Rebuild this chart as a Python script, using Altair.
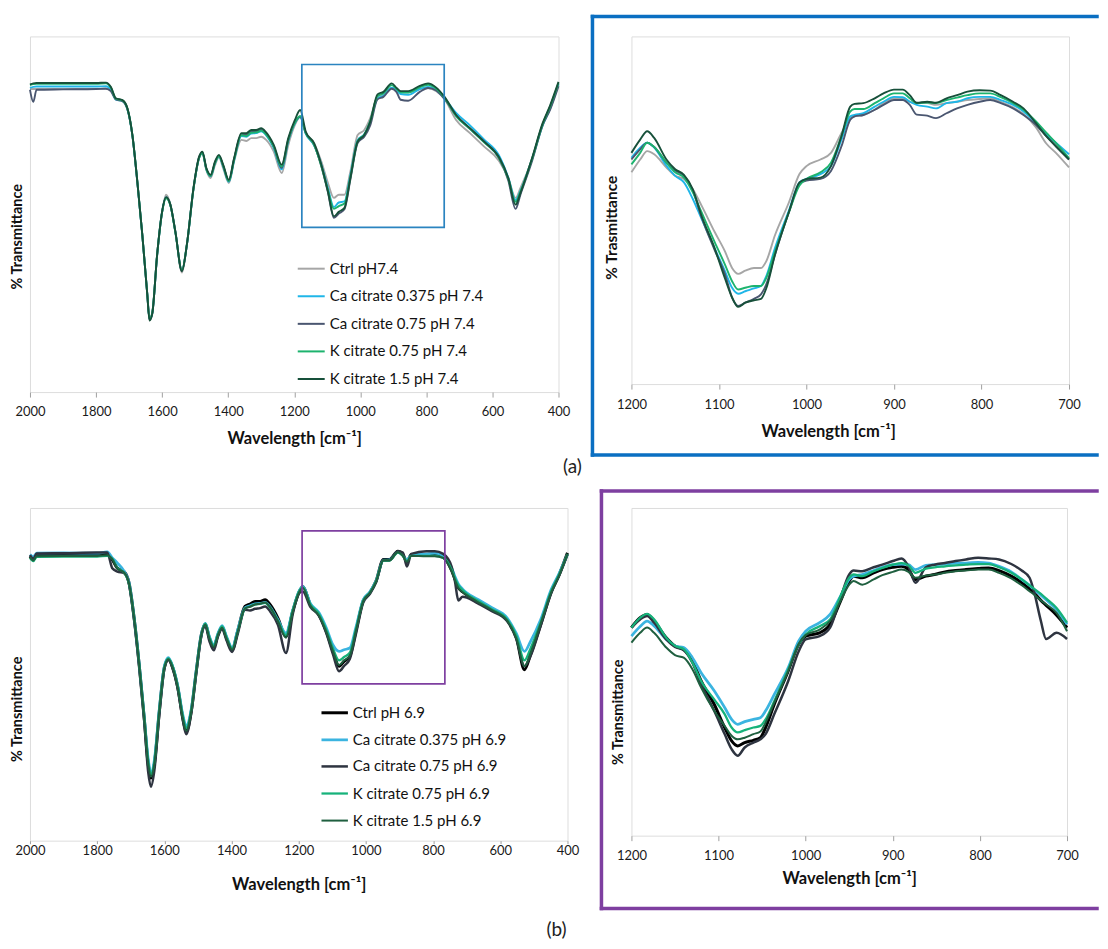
import altair as alt
import pandas as pd

FONT = "Lato"
GRAY = "#A0A0A0"

# ---------------- (a) pH 7.4 : full spectrum ----------------
TOP_NAMES = ["Ctrl pH7.4", "Ca citrate 0.375 pH 7.4", "Ca citrate 0.75 pH 7.4",
             "K citrate 0.75 pH 7.4", "K citrate 1.5 pH 7.4"]
TOP_COLORS = ["#A6A6A6", "#1FB6E8", "#4A5670", "#1DB36E", "#17503A"]

TL_X = [2000, 1990, 1980, 1900, 1800, 1770, 1755, 1740, 1720, 1705, 1690, 1675, 1660, 1645, 1638,
        1630, 1615, 1600, 1588, 1575, 1560, 1540, 1525, 1505, 1488, 1478, 1466, 1453, 1440, 1428,
        1415, 1398, 1382, 1360, 1345, 1330, 1315, 1300, 1285, 1262, 1238, 1218, 1198, 1182, 1165,
        1140, 1118, 1098, 1080, 1065, 1048, 1030, 1008, 988, 970, 948, 930, 905, 890, 878,
        855, 820, 795, 770, 745, 710, 668, 625, 580, 552, 530, 515, 480, 448, 425, 400]
TL_CTRL = [85.2, 85.2, 85.2, 85.2, 85.2, 85.4, 84.6, 82.4, 82.0, 79.6, 72.2, 59.1, 44.3, 27.8, 20.6,
           22.3, 38.6, 50.5, 55.5, 52.8, 45.3, 33.6, 41.4, 57.0, 65.8, 67.1, 62.4, 60.2, 63.8, 66.0,
           62.9, 58.8, 64.9, 70.9, 70.6, 71.4, 71.4, 71.8, 70.9, 67.6, 61.6, 69.5, 75.1, 77.4, 72.8,
           70.0, 64.8, 58.8, 54.6, 55.5, 55.5, 62.0, 72.3, 73.7, 77.0, 83.0, 83.7, 85.5, 85.2, 84.4,
           84.3, 85.2, 85.5, 84.6, 82.4, 76.5, 72.8, 69.0, 65.0, 60.2, 54.6, 57.4, 65.5, 75.3, 79.8, 86.5]
TL_CA0375 = [85.5, 85.8, 85.9, 85.9, 85.9, 86.0, 85.0, 82.2, 81.8, 79.5, 72.1, 59.0, 44.2, 27.6, 20.4,
             22.0, 38.6, 50.7, 54.8, 52.6, 45.1, 34.2, 41.4, 57.2, 65.9, 67.3, 62.6, 60.7, 64.3, 66.2,
             63.4, 59.1, 65.2, 72.0, 71.8, 72.7, 72.8, 73.3, 72.2, 68.6, 62.6, 70.6, 75.6, 77.3, 72.6,
             69.4, 64.0, 57.3, 52.0, 53.3, 53.6, 61.0, 70.8, 72.5, 76.0, 82.5, 83.3, 85.6, 84.8, 83.8,
             83.6, 85.2, 85.8, 84.9, 82.6, 78.5, 75.0, 71.0, 66.5, 60.3, 54.0, 56.6, 65.5, 75.0, 79.8, 86.6]
TL_CA075 = [85.0, 81.6, 85.0, 85.1, 85.2, 85.3, 84.6, 82.3, 81.8, 79.5, 72.2, 59.1, 44.3, 27.6, 20.3,
            22.0, 38.6, 50.6, 54.7, 52.6, 45.1, 34.1, 41.4, 57.2, 66.0, 67.4, 62.7, 60.8, 64.5, 66.4,
            63.6, 59.3, 65.5, 72.4, 72.3, 73.2, 73.3, 73.8, 72.6, 69.0, 63.0, 70.8, 75.8, 77.4, 72.8,
            69.6, 63.5, 56.2, 49.0, 50.2, 51.4, 59.8, 70.0, 71.8, 75.0, 82.3, 83.0, 85.3, 84.3, 82.2,
            81.9, 84.4, 85.5, 84.8, 82.4, 77.8, 74.0, 70.4, 65.8, 59.5, 51.5, 55.6, 65.0, 75.0, 79.5, 86.0]
TL_K075 = [86.3, 86.6, 86.7, 86.7, 86.7, 86.8, 85.6, 82.5, 82.0, 79.7, 72.3, 59.2, 44.3, 27.7, 20.5,
           22.2, 38.7, 50.6, 54.5, 52.5, 45.0, 34.3, 41.5, 57.2, 65.8, 67.2, 62.7, 60.8, 64.4, 66.3,
           63.6, 59.3, 65.4, 72.2, 72.0, 72.9, 73.0, 73.5, 72.4, 69.0, 63.4, 71.0, 75.8, 77.6, 72.8,
           69.6, 63.6, 56.8, 51.5, 52.3, 53.0, 60.5, 70.6, 72.4, 76.2, 83.2, 84.0, 86.3, 85.2, 84.3,
           84.2, 85.7, 86.4, 85.3, 82.8, 77.6, 74.0, 70.2, 65.8, 60.0, 53.5, 56.4, 65.6, 75.3, 80.4, 86.9]
TL_K15 = [86.5, 86.8, 86.9, 86.9, 86.9, 87.0, 85.8, 82.6, 82.1, 79.8, 72.3, 59.2, 44.3, 27.5, 20.1,
          21.9, 38.7, 50.8, 54.8, 52.7, 45.2, 34.0, 41.5, 57.4, 66.2, 67.6, 63.0, 61.1, 64.8, 66.7,
          63.9, 59.7, 65.8, 72.8, 72.8, 73.7, 73.7, 74.2, 73.0, 69.5, 63.9, 71.4, 76.5, 79.3, 73.2,
          70.0, 63.9, 56.4, 49.4, 50.7, 51.8, 60.2, 70.4, 72.3, 76.0, 83.7, 84.4, 86.8, 85.5, 84.6,
          84.6, 86.1, 86.8, 85.6, 83.0, 77.9, 74.2, 70.4, 66.0, 60.2, 52.7, 56.0, 65.8, 75.6, 80.7, 87.2]
TL_BOX = [1177, 746, 46.3, 92.1]   # wn from, wn to, T low, T high

# ---------------- (a) pH 7.4 : zoom 1200-700 ----------------
TR_X = [1200, 1190, 1182, 1174, 1160, 1150, 1140, 1130, 1120, 1105, 1093, 1085, 1078, 1070, 1060,
        1052, 1046, 1036, 1020, 1008, 1000, 984, 972, 960, 950, 945, 935, 922, 912, 900,
        890, 882, 874, 862, 852, 840, 828, 816, 802, 790, 778, 764, 752, 738, 726, 715, 700]
TR_CTRL = [60.9, 64.6, 67.0, 66.1, 62.3, 59.9, 59.0, 56.1, 51.4, 43.8, 38.1, 33.4, 31.7, 32.6, 33.4,
           33.4, 35.3, 42.8, 52.3, 60.4, 62.7, 64.6, 66.5, 72.2, 76.5, 77.0, 77.4, 78.9, 80.8, 82.2,
           82.2, 81.2, 80.8, 80.8, 80.3, 80.8, 81.2, 81.7, 82.0, 82.2, 81.2, 79.6, 77.7, 73.9, 69.2, 66.5, 62.3]
TR_CA0375 = [65.1, 68.0, 69.4, 68.0, 62.8, 59.9, 58.0, 53.3, 47.6, 39.1, 32.4, 27.7, 26.0, 26.7, 27.5,
             28.2, 31.0, 39.1, 50.0, 58.0, 59.0, 60.4, 62.7, 70.3, 77.0, 77.4, 77.9, 79.8, 81.2, 82.6,
             82.5, 81.2, 80.3, 79.8, 79.3, 80.8, 81.2, 82.2, 82.6, 82.6, 81.7, 80.3, 78.4, 75.1, 71.8, 69.4, 66.1]
TR_CA075 = [64.6, 67.5, 69.4, 68.2, 63.7, 61.4, 59.9, 55.7, 48.1, 38.6, 31.5, 24.9, 22.5, 23.4, 24.5,
            25.8, 28.6, 37.2, 49.5, 57.5, 58.5, 59.0, 61.3, 68.4, 76.0, 77.0, 77.4, 78.9, 80.3, 81.7,
            81.7, 80.3, 77.5, 77.2, 76.5, 77.9, 79.3, 80.3, 81.2, 81.7, 80.8, 79.3, 77.4, 74.6, 71.3, 68.4, 64.6]
TR_K075 = [63.2, 66.5, 69.4, 68.2, 63.7, 60.9, 59.4, 55.2, 49.5, 40.9, 34.3, 29.6, 27.2, 27.7, 28.2,
           28.2, 30.5, 38.1, 49.5, 57.1, 59.0, 60.9, 63.7, 71.3, 78.4, 79.1, 79.1, 80.8, 82.2, 83.6,
           83.6, 82.2, 80.8, 81.0, 80.8, 81.7, 82.4, 83.1, 83.6, 83.6, 82.5, 80.8, 78.9, 75.6, 72.3, 69.4, 65.0]
TR_K15 = [66.5, 70.3, 72.7, 70.8, 64.6, 61.8, 60.2, 56.1, 48.5, 39.1, 30.3, 24.9, 22.2, 23.4, 24.1,
          24.5, 27.5, 37.2, 49.5, 58.0, 59.0, 59.4, 62.7, 71.3, 79.8, 80.6, 80.8, 82.2, 83.6, 84.7,
          84.7, 83.1, 80.9, 81.2, 80.9, 82.2, 83.1, 84.1, 84.5, 84.4, 83.1, 81.2, 79.3, 75.1, 71.3, 68.4, 64.6]

# ---------------- (b) pH 6.9 : full spectrum ----------------
BOT_NAMES = ["Ctrl pH 6.9", "Ca citrate 0.375 pH 6.9", "Ca citrate 0.75 pH 6.9",
             "K citrate 0.75 pH 6.9", "K citrate 1.5 pH 6.9"]
BOT_COLORS = ["#000000", "#3BB4E0", "#2E3440", "#16B27A", "#1F5F3F"]
BOT_WIDTHS = [3.0, 2.0, 1.2, 1.9, 1.9]

BL_X = [2000, 1990, 1980, 1900, 1800, 1770, 1755, 1740, 1720, 1705, 1690, 1675, 1660, 1648, 1640,
        1630, 1615, 1600, 1588, 1575, 1560, 1545, 1535, 1520, 1505, 1490, 1478, 1466, 1453, 1440,
        1428, 1415, 1398, 1382, 1360, 1345, 1330, 1315, 1300, 1285, 1262, 1238, 1218, 1198, 1188,
        1165, 1140, 1118, 1098, 1080, 1065, 1048, 1030, 1008, 988, 970, 948, 930, 905, 890,
        878, 865, 820, 795, 770, 745, 735, 725, 712, 700, 668, 625, 580, 552, 528, 510, 480, 448, 425, 400]
BL_CTRL = [85.5, 84.5, 86.0, 86.0, 86.0, 86.0, 84.5, 81.9, 80.9, 77.4, 66.9, 52.9, 36.8, 22.8, 18.8,
           22.8, 38.8, 52.0, 54.5, 52.0, 46.0, 36.8, 32.8, 38.8, 50.9, 61.9, 65.1, 60.9, 58.2, 62.0,
           64.2, 60.9, 57.4, 62.9, 70.4, 71.1, 71.9, 71.9, 72.4, 70.9, 66.9, 61.4, 68.9, 74.9, 76.4,
           70.9, 67.9, 62.9, 56.9, 52.4, 53.9, 55.4, 62.9, 72.1, 74.6, 78.0, 84.5, 84.5, 87.0, 86.0,
           83.9, 86.0, 86.0, 86.0, 85.2, 81.2, 78.6, 76.1, 74.8, 73.9, 71.9, 69.4, 66.4, 60.9, 51.4,
           55.9, 64.9, 74.9, 79.9, 86.5]
BL_CA0375 = [86.0, 85.3, 86.4, 86.5, 86.4, 86.8, 85.0, 83.5, 81.0, 77.6, 67.0, 53.2, 37.3, 24.5, 20.3,
             24.0, 39.5, 52.4, 55.0, 52.3, 46.5, 37.8, 34.5, 39.5, 51.3, 62.0, 65.3, 61.4, 58.8, 62.4,
             64.6, 61.4, 58.0, 63.2, 70.0, 70.6, 71.2, 71.3, 71.6, 70.2, 66.4, 62.4, 69.2, 75.2, 76.4,
             71.2, 68.6, 64.0, 58.8, 56.9, 57.4, 57.9, 64.0, 72.4, 74.8, 78.0, 84.3, 84.4, 86.7, 85.8,
             84.4, 85.8, 86.2, 86.4, 85.6, 82.0, 79.4, 77.2, 75.6, 74.5, 72.6, 70.0, 67.0, 62.2, 56.9,
             59.9, 66.4, 75.6, 80.3, 86.0]
BL_CA075 = [85.8, 84.7, 86.3, 86.4, 86.6, 86.6, 81.9, 80.9, 80.4, 77.0, 66.5, 52.5, 36.2, 20.5, 16.2,
            20.9, 38.0, 51.6, 54.3, 51.6, 45.6, 36.2, 32.0, 38.3, 50.5, 61.6, 64.5, 60.0, 57.2, 61.5,
            63.6, 60.2, 56.7, 62.0, 69.4, 69.2, 69.7, 69.9, 70.4, 68.9, 64.9, 56.4, 68.0, 74.5, 74.9,
            70.2, 67.6, 62.4, 56.0, 50.9, 52.5, 54.6, 62.0, 71.6, 74.2, 77.6, 84.3, 84.3, 87.0, 86.6,
            82.4, 86.2, 87.0, 87.0, 86.2, 82.4, 78.0, 72.2, 73.3, 73.1, 71.4, 69.0, 66.0, 60.6, 52.4,
            55.5, 64.5, 74.5, 79.6, 86.0]
BL_K075 = [85.0, 84.0, 85.3, 85.4, 85.4, 85.6, 84.8, 82.0, 80.6, 77.2, 67.2, 53.4, 37.6, 24.0, 20.0,
           23.5, 39.4, 52.2, 54.8, 52.4, 46.4, 37.5, 33.8, 39.2, 51.2, 62.0, 65.2, 61.2, 58.6, 62.2,
           64.4, 61.2, 57.8, 62.8, 69.8, 70.4, 71.0, 71.2, 71.5, 70.0, 66.2, 61.8, 69.2, 75.2, 76.2,
           71.0, 68.2, 63.4, 57.8, 54.2, 55.2, 56.5, 63.5, 72.2, 74.6, 78.0, 84.2, 84.2, 86.6, 85.6,
           84.0, 85.6, 85.6, 85.6, 85.0, 81.5, 79.0, 76.8, 75.3, 74.2, 72.2, 69.6, 66.6, 61.6, 54.2,
           57.8, 65.6, 75.2, 80.0, 86.2]
BL_K15 = [85.2, 84.2, 85.5, 85.6, 85.6, 85.8, 84.6, 81.8, 80.6, 77.2, 67.0, 53.0, 37.0, 23.2, 19.2,
          23.0, 39.0, 52.0, 54.5, 52.0, 46.0, 36.9, 33.0, 38.9, 51.0, 61.9, 65.0, 60.8, 58.2, 62.0,
          64.0, 60.8, 57.4, 62.7, 69.8, 70.3, 71.0, 71.2, 71.6, 70.1, 66.0, 61.0, 68.8, 74.8, 76.0,
          70.6, 67.7, 62.8, 57.0, 52.8, 54.2, 55.6, 63.0, 72.0, 74.5, 77.8, 84.2, 84.2, 86.7, 85.6,
          83.8, 85.6, 85.5, 85.5, 85.0, 81.0, 78.4, 76.0, 74.7, 73.8, 71.8, 69.3, 66.2, 60.8, 52.4,
          56.4, 65.2, 74.8, 79.7, 86.2]
BL_BOX = [1190, 765, 47.1, 93.1]

# ---------------- (b) pH 6.9 : zoom 1200-700 ----------------
BR_X = [1200, 1190, 1182, 1174, 1160, 1150, 1140, 1130, 1120, 1105, 1093, 1085, 1078, 1070, 1060,
        1052, 1046, 1036, 1020, 1008, 1000, 984, 972, 960, 950, 945, 935, 922, 912, 900,
        890, 882, 874, 862, 852, 840, 828, 816, 802, 790, 778, 764, 752, 743, 738, 730, 724, 712, 700]
BR_CTRL = [63.5, 66.5, 67.5, 65.5, 60.4, 57.9, 56.9, 53.3, 47.2, 40.1, 33.0, 28.9, 27.4, 28.4, 29.1,
           29.9, 33.0, 40.1, 50.3, 58.4, 60.9, 61.9, 64.5, 71.6, 77.7, 79.2, 78.7, 80.2, 81.2, 81.9,
           82.2, 81.2, 78.2, 79.2, 79.7, 80.5, 80.9, 81.2, 81.5, 81.7, 80.9, 79.2, 77.2, 75.3, 74.1,
           71.8, 70.3, 67.3, 63.5]
BR_CA0375 = [60.9, 63.8, 65.5, 64.0, 59.9, 57.9, 57.4, 54.3, 49.7, 44.2, 39.1, 35.5, 34.0, 34.8, 35.5,
             36.0, 38.1, 43.1, 51.3, 59.4, 62.4, 65.0, 67.5, 73.1, 78.2, 79.2, 79.7, 80.9, 81.9, 82.7,
             82.9, 82.7, 81.2, 82.5, 82.7, 82.9, 83.2, 83.2, 83.4, 83.2, 82.2, 80.5, 78.2, 76.4, 75.1,
             73.4, 72.0, 69.0, 64.5]
BR_CA075 = [63.5, 66.0, 67.0, 65.0, 59.9, 57.6, 56.6, 52.8, 46.2, 38.1, 31.0, 26.4, 24.4, 26.9, 28.4,
            29.4, 31.0, 37.1, 47.2, 56.3, 59.9, 60.9, 63.5, 72.6, 79.7, 80.9, 80.7, 81.9, 82.7, 83.8,
            84.6, 82.2, 77.2, 81.9, 82.7, 83.2, 83.8, 84.3, 84.8, 84.6, 84.3, 82.9, 80.9, 78.7, 74.6,
            65.5, 60.0, 61.9, 60.0]
BR_K075 = [63.5, 66.5, 67.7, 66.0, 60.4, 57.9, 56.9, 52.8, 47.2, 41.6, 37.1, 33.0, 31.5, 32.2, 33.0,
           33.5, 35.5, 41.1, 50.8, 58.4, 61.4, 63.9, 66.0, 73.1, 78.7, 79.7, 79.2, 80.7, 81.7, 82.7,
           83.2, 82.5, 80.2, 81.5, 81.9, 82.2, 82.5, 82.7, 82.9, 82.9, 81.9, 80.2, 78.2, 76.4, 75.4,
           73.8, 72.4, 69.5, 65.0]
BR_K15 = [58.9, 61.9, 63.5, 61.9, 57.4, 55.1, 54.3, 50.8, 45.2, 38.1, 33.5, 30.5, 29.4, 29.9, 31.0,
          31.8, 34.5, 40.6, 50.3, 58.6, 61.2, 62.9, 65.5, 71.6, 76.6, 77.7, 76.6, 78.2, 79.5, 80.5,
          81.2, 80.5, 78.7, 79.4, 79.7, 80.2, 80.7, 80.9, 81.2, 81.2, 80.2, 78.5, 76.4, 74.6, 73.6,
          71.8, 70.6, 68.0, 62.4]

FULL_TICKS = [2000, 1800, 1600, 1400, 1200, 1000, 800, 600, 400]
ZOOM_TICKS = [1200, 1100, 1000, 900, 800, 700]
XTITLE = "Wavelength [cm\u207b\u00b9]"


def long_df(xs, lists, names):
    rows = []
    for name, vals in zip(names, lists):
        assert len(vals) == len(xs), (name, len(vals), len(xs))
        for x, v in zip(xs, vals):
            rows.append({"wn": x, "T": v, "series": name})
    return pd.DataFrame(rows)


ONE = alt.Data(values=[{"k": 1}])


def panel(df, names, colors, widths, xdom, xticks, w, h, ytitle, ytitle_y, ytitle_pad,
          tick_size, label_pad, xtitle_pad, ytitle_size=14.5, xtitle_x=None, legend=None):
    xaxis_kw = dict(values=xticks, format="d", grid=False, domain=False, ticks=True,
                    tickColor=GRAY, tickSize=tick_size, labelPadding=label_pad,
                    labelFlush=False, labelOverlap=False, labelFont=FONT, labelFontSize=13,
                    labelColor="#1a1a1a", titleFont=FONT, titleFontSize=16.5,
                    titleFontWeight="bold", titleColor="#111111", titlePadding=xtitle_pad)
    if xtitle_x is not None:
        xaxis_kw["titleX"] = xtitle_x
    yaxis = alt.Axis(labels=False, ticks=False, domain=False, grid=False, titleFont=FONT,
                     titleFontSize=ytitle_size, titleFontWeight="bold", titleColor="#111111",
                     titlePadding=ytitle_pad, titleY=ytitle_y)
    enc = dict(
        x=alt.X("wn:Q", title=XTITLE,
                scale=alt.Scale(domain=xdom, nice=False, zero=False),
                axis=alt.Axis(**xaxis_kw)),
        y=alt.Y("T:Q", title=ytitle, scale=alt.Scale(domain=[0, 100], nice=False, zero=False),
                axis=yaxis),
        color=alt.Color("series:N", scale=alt.Scale(domain=names, range=colors),
                        legend=legend),
        order=alt.Order("wn:Q", sort="descending"),
    )
    if widths is not None:
        enc["strokeWidth"] = alt.StrokeWidth("series:N",
                                             scale=alt.Scale(domain=names, range=widths),
                                             legend=legend)
        mark = alt.Chart(df).mark_line(interpolate="monotone")
    else:
        mark = alt.Chart(df).mark_line(interpolate="monotone", strokeWidth=1.9)
    return mark.encode(**enc).properties(width=w, height=h)


def zoom_box(box, color, xdom):
    d = pd.DataFrame([{"x1": box[0], "x2": box[1], "y1": box[2], "y2": box[3]}])
    return alt.Chart(d).mark_rect(filled=False, stroke=color, strokeWidth=1.7).encode(
        x=alt.X("x1:Q", scale=alt.Scale(domain=xdom, nice=False, zero=False)),
        x2="x2:Q",
        y=alt.Y("y1:Q", scale=alt.Scale(domain=[0, 100], nice=False, zero=False)),
        y2="y2:Q",
    )


def frame(color, left, top, bottom, right, sw=3.5):
    top_r = alt.Chart(ONE).mark_rule(color=color, strokeWidth=sw, strokeCap="square").encode(
        x=alt.value(left), x2=alt.value(right), y=alt.value(top))
    bot_r = alt.Chart(ONE).mark_rule(color=color, strokeWidth=sw, strokeCap="square").encode(
        x=alt.value(left), x2=alt.value(right), y=alt.value(bottom))
    left_r = alt.Chart(ONE).mark_rule(color=color, strokeWidth=sw, strokeCap="square").encode(
        x=alt.value(left), y=alt.value(top), y2=alt.value(bottom))
    return [top_r, bot_r, left_r]


def label(txt, x, y):
    return alt.Chart(ONE).mark_text(text=txt, font=FONT, fontSize=19, color="#222222",
                                    align="center", baseline="middle").encode(
        x=alt.value(x), y=alt.value(y))


BLUE_FRAME = "#0A6FC2"
BLUE_BOX = "#2B84C0"
PURPLE = "#7E3FA0"

# ---- top-left
tl_df = long_df(TL_X, [TL_CTRL, TL_CA0375, TL_CA075, TL_K075, TL_K15], TOP_NAMES)
tl_leg = alt.Legend(orient="none", legendX=267, legendY=218, title=None, symbolType="stroke",
                    symbolSize=729, symbolStrokeWidth=2, labelFont=FONT, labelFontSize=15,
                    labelColor="#111111", labelOffset=4, rowPadding=4.6, padding=0)
tl = alt.layer(
    panel(tl_df, TOP_NAMES, TOP_COLORS, None, [2000, 400], FULL_TICKS, 529, 356,
          "% Transmittance", 200, 5, 5, 8.5, 11.5, legend=tl_leg),
    zoom_box(TL_BOX, BLUE_BOX, [2000, 400]),
    label("(a)", 543, 431),
)

# ---- top-right
tr_df = long_df(TR_X, [TR_CTRL, TR_CA0375, TR_CA075, TR_K075, TR_K15], TOP_NAMES)
tr = alt.layer(
    panel(tr_df, TOP_NAMES, TOP_COLORS, None, [1200, 700], ZOOM_TICKS, 438, 348,
          "% Trasmittance", 191, 12, 5, 9.5, 11.5, ytitle_size=15.5, xtitle_x=197),
    *frame(BLUE_FRAME, -39, -20, 419, 466),
)

# ---- bottom-left
bl_df = long_df(BL_X, [BL_CTRL, BL_CA0375, BL_CA075, BL_K075, BL_K15], BOT_NAMES)
bl_leg = alt.Legend(orient="none", legendX=290, legendY=190, title=None, symbolType="stroke",
                    symbolSize=700, labelFont=FONT, labelFontSize=15, labelColor="#111111",
                    labelOffset=3, rowPadding=4.1, padding=0)
bl = alt.layer(
    panel(bl_df, BOT_NAMES, BOT_COLORS, BOT_WIDTHS, [2000, 400], FULL_TICKS, 538, 333,
          "% Transmittance", 201, 5, 3, 0.5, 19, legend=bl_leg),
    zoom_box(BL_BOX, PURPLE, [2000, 400]),
    label("(b)", 527, 422),
)

# ---- bottom-right
br_df = long_df(BR_X, [BR_CTRL, BR_CA0375, BR_CA075, BR_K075, BR_K15], BOT_NAMES)
br = alt.layer(
    panel(br_df, BOT_NAMES, BOT_COLORS, BOT_WIDTHS, [1200, 700], ZOOM_TICKS, 436, 328,
          "% Transmittance", 204, 6, 5, 9, 8),
    *frame(PURPLE, -30, -17, 401, 466),
)

chart = alt.concat(
    tl, tr, bl, br, columns=2, spacing={"row": 116, "column": 64}, bounds="flush", align="all",
    padding={"left": 1, "top": 5, "right": 0, "bottom": 0},
).resolve_scale(color="independent", strokeWidth="independent", x="independent",
                y="independent").resolve_legend(color="independent", strokeWidth="independent"
).configure_view(stroke=GRAY, strokeWidth=1).configure(font=FONT, background="white")

chart.save("out.html", embed_options={"renderer": "svg", "actions": False})
